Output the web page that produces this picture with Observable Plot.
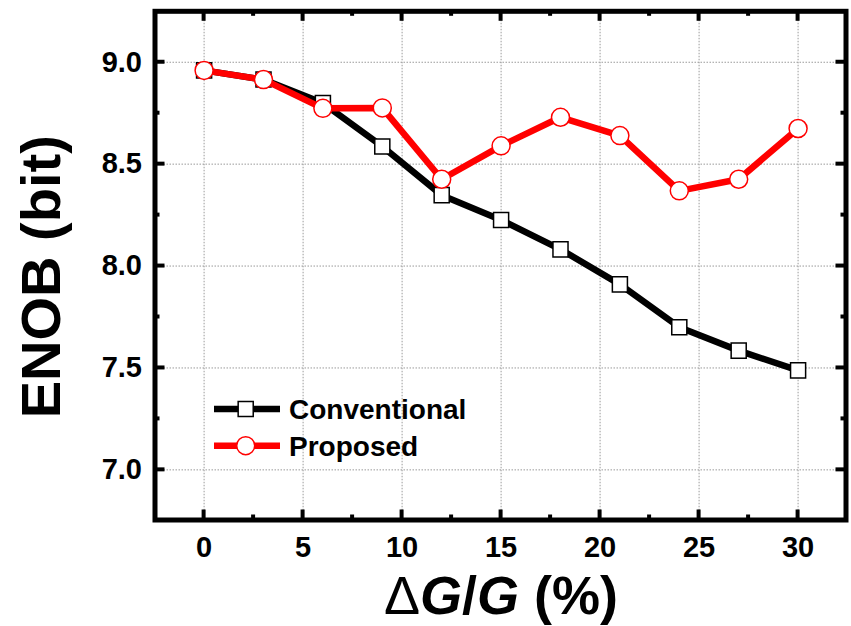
<!DOCTYPE html>
<html>
<head>
<meta charset="utf-8">
<script src="https://cdn.jsdelivr.net/npm/d3@7"></script>
<script src="https://cdn.jsdelivr.net/npm/@observablehq/plot@0.6"></script>
<style>
  body { margin: 0; background: #fff; }
  #chart { width: 851px; height: 626px; }
  #chart svg { font-family: "Liberation Sans", Arial, sans-serif; }
</style>
</head>
<body>
<div id="chart"></div>
<script>
// ENOB versus gain mismatch for the two calibration schemes
const deltaG = [0, 3, 6, 9, 12, 15, 18, 21, 24, 27, 30];
const enobConventional = [8.96, 8.915, 8.80, 8.587, 8.348, 8.226, 8.082, 7.91, 7.70, 7.585, 7.488];
const enobProposed = [8.96, 8.915, 8.774, 8.776, 8.426, 8.59, 8.73, 8.64, 8.369, 8.426, 8.675];
const seriesNames = ["Conventional", "Proposed"];
const seriesColors = ["#000000", "#ff0000"];
const seriesSymbols = ["square", "circle"];

const xMajorTicks = [0, 5, 10, 15, 20, 25, 30];
const xMinorTicks = [2.5, 7.5, 12.5, 17.5, 22.5, 27.5];
const yMajorTicks = [7.0, 7.5, 8.0, 8.5, 9.0];
const yMinorTicks = [7.25, 7.75, 8.25, 8.75];

const conventional = deltaG.map((x, i) => ({x, y: enobConventional[i]}));
const proposed = deltaG.map((x, i) => ({x, y: enobProposed[i]}));

const font = "Liberation Sans, Arial, sans-serif";
const W = 851, H = 626;
const margin = {left: 154.5, right: 5.5, top: 10.8, bottom: 106.5};
const majorLen = 10, minorLen = 5;

const chart = Plot.plot({
  width: W,
  height: H,
  marginLeft: margin.left,
  marginRight: margin.right,
  marginTop: margin.top,
  marginBottom: margin.bottom,
  style: {fontFamily: font, background: "#fff"},
  x: {domain: [-2.48, 32.42], axis: null},
  y: {domain: [6.754, 9.25], axis: null},
  marks: [
    // dotted grid
    Plot.gridX(xMajorTicks, {stroke: "#9a9a9a", strokeOpacity: 1, strokeWidth: 1, strokeDasharray: "1.5,1.5"}),
    Plot.gridY(yMajorTicks, {stroke: "#9a9a9a", strokeOpacity: 1, strokeWidth: 1, strokeDasharray: "1.5,1.5"}),

    // tick labels
    Plot.axisX(xMajorTicks, {anchor: "bottom", tickSize: 0, tickPadding: 16, label: null,
      fontSize: 29, fontWeight: "bold", fill: "#000"}),
    Plot.axisY(yMajorTicks, {anchor: "left", tickSize: 0, tickPadding: 13, label: null,
      tickFormat: d3.format(".1f"), fontSize: 29, fontWeight: "bold", fill: "#000"}),

    Plot.frame({stroke: "#000", strokeWidth: 5}),

    // Conventional
    Plot.line(conventional, {x: "x", y: "y", stroke: seriesColors[0], strokeWidth: 6.5}),
    Plot.dot(conventional, {x: "x", y: "y", symbol: "square", r: 8.5, fill: "#fff",
      stroke: seriesColors[0], strokeWidth: 1.5}),

    // Proposed
    Plot.line(proposed, {x: "x", y: "y", stroke: seriesColors[1], strokeWidth: 6.5}),
    Plot.dot(proposed, {x: "x", y: "y", symbol: "circle", r: 9, fill: "#fff",
      stroke: seriesColors[1], strokeWidth: 1.5})
  ]
});

document.getElementById("chart").appendChild(chart);

const svg = d3.select(chart);
const sx = chart.scale("x"), sy = chart.scale("y");
const frameLeft = margin.left, frameRight = W - margin.right;
const frameTop = margin.top, frameBottom = H - margin.bottom;

// inward ticks on all four sides, positioned through the plot's own scales
const tickGroup = svg.append("g").attr("stroke", "#000").attr("stroke-width", 4);
[[xMajorTicks, majorLen], [xMinorTicks, minorLen]].forEach(([values, len]) => {
  values.forEach(v => {
    const px = sx.apply(v);
    tickGroup.append("line").attr("x1", px).attr("x2", px).attr("y1", frameBottom).attr("y2", frameBottom - len);
    tickGroup.append("line").attr("x1", px).attr("x2", px).attr("y1", frameTop).attr("y2", frameTop + len);
  });
});
[[yMajorTicks, majorLen], [yMinorTicks, minorLen]].forEach(([values, len]) => {
  values.forEach(v => {
    const py = sy.apply(v);
    tickGroup.append("line").attr("y1", py).attr("y2", py).attr("x1", frameLeft).attr("x2", frameLeft + len);
    tickGroup.append("line").attr("y1", py).attr("y2", py).attr("x1", frameRight).attr("x2", frameRight - len);
  });
});

// legend in the lower-left of the plotting area
const legend = svg.append("g").attr("transform", "translate(214,409)");
seriesNames.forEach((name, i) => {
  const g = legend.append("g").attr("transform", `translate(0,${i * 36.7})`);
  g.append("line")
    .attr("x1", 0).attr("x2", 66).attr("y1", 0).attr("y2", 0)
    .attr("stroke", seriesColors[i]).attr("stroke-width", 6.5);
  g.append("path")
    .attr("transform", "translate(31.7,0)")
    .attr("d", d3.symbol(seriesSymbols[i] === "square" ? d3.symbolSquare : d3.symbolCircle,
      Math.PI * (seriesSymbols[i] === "square" ? 8.5 : 9) ** 2)())
    .attr("fill", "#fff").attr("stroke", seriesColors[i]).attr("stroke-width", 1.5);
  g.append("text")
    .attr("x", 75).attr("y", 0).attr("dy", "0.36em")
    .attr("text-anchor", "start")
    .attr("font-size", 28).attr("font-weight", "bold").attr("fill", "#000")
    .text(name);
});

// y-axis title
svg.append("text")
  .attr("transform", "translate(60,276.7) rotate(-90)")
  .attr("text-anchor", "middle")
  .attr("font-size", 56).attr("font-weight", "bold").attr("fill", "#000")
  .text("ENOB (bit)");

// x-axis title
const xt = svg.append("text")
  .attr("x", 501).attr("y", 613.5)
  .attr("text-anchor", "middle")
  .attr("font-size", 54).attr("font-weight", "bold").attr("fill", "#000");
xt.append("tspan").attr("font-weight", "normal").text("\u0394");
xt.append("tspan").attr("font-style", "italic").text("G");
xt.append("tspan").text("/");
xt.append("tspan").attr("font-style", "italic").text("G");
xt.append("tspan").text(" (%)");
</script>
</body>
</html>
